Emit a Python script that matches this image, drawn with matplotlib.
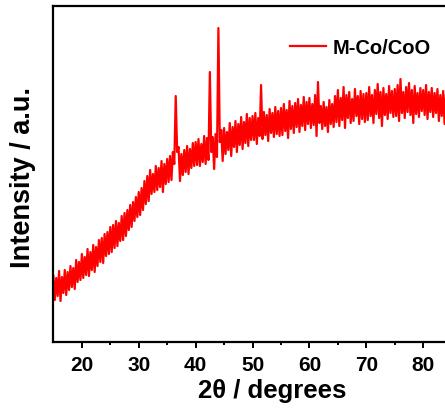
import numpy as np
import matplotlib
matplotlib.use('Agg')
import matplotlib.pyplot as plt

plt.rcParams['font.family'] = ['Liberation Sans', 'DejaVu Sans']
plt.rcParams['font.weight'] = 'bold'

# XRD trace: two-theta grid at 0.25 deg steps,
# upper edge of the noisy band at 15.0, 15.5, ... and lower edge at 15.25, 15.75, ...
two_theta_start = 15.0
two_theta_step = 0.25

upper = [66, 64, 71, 65, 72, 70, 76, 74, 82, 80,
         88, 85, 93, 90, 97, 95, 102, 104, 108, 110,
         115, 117, 121, 119, 126, 129, 132, 137, 140, 145,
         150, 154, 161, 166, 172, 168, 176, 174, 181, 178,
         183, 186, 190, 246, 195, 188, 192, 196, 193, 199,
         200, 203, 198, 206, 204, 270, 205, 208, 314, 212,
         214, 210, 219, 215, 221, 218, 225, 220, 228, 224,
         226, 229, 224, 257, 230, 227, 233, 229, 235, 231,
         234, 238, 232, 241, 236, 239, 243, 237, 245, 240,
         244, 238, 247, 260, 236, 240, 235, 242, 238, 246,
         252, 244, 255, 247, 250, 243, 253, 246, 251, 248,
         249, 255, 247, 252, 258, 250, 254, 248, 256, 251,
         253, 257, 263, 250, 255, 259, 252, 256, 249, 254,
         252, 257, 250, 254, 249, 253, 247, 251, 248, 250]

lower = [42, 46, 41, 49, 47, 52, 55, 53, 60, 62,
         64, 67, 66, 72, 70, 76, 80, 79, 86, 88,
         90, 94, 96, 101, 102, 106, 112, 115, 121, 125,
         127, 132, 138, 141, 148, 150, 152, 155, 150, 158,
         160, 162, 178, 190, 161, 167, 170, 168, 174, 176,
         177, 176, 180, 178, 182, 190, 173, 185, 200, 181,
         188, 192, 186, 195, 190, 197, 193, 199, 196, 202,
         202, 198, 206, 203, 207, 201, 209, 205, 208, 206,
         207, 211, 204, 213, 209, 215, 210, 216, 212, 218,
         214, 217, 206, 219, 213, 216, 210, 218, 215, 220,
         216, 222, 214, 224, 219, 221, 226, 218, 223, 220,
         222, 226, 219, 228, 224, 216, 227, 223, 229, 225,
         226, 221, 229, 224, 230, 227, 219, 228, 225, 231,
         227, 223, 230, 225, 229, 221, 226, 218, 224, 220]

intensity = np.empty(len(upper) + len(lower))
intensity[0::2] = upper
intensity[1::2] = lower
two_theta = two_theta_start + two_theta_step * np.arange(len(intensity))

fig = plt.figure(figsize=(4.45, 4.10), dpi=100)
ax = fig.add_axes([0.120, 0.1634, 0.895, 0.8195])

ax.plot(two_theta, intensity, color='#ff0000', lw=1.6, label='M-Co/CoO')

ax.set_xlim(15, 85)
ax.set_ylim(0, 336)
ax.set_xticks([20, 30, 40, 50, 60, 70, 80])
ax.set_xticks(np.arange(25, 85, 10), minor=True)
ax.set_yticks([])
ax.tick_params(axis='x', which='major', direction='out', length=4.5, width=1.4,
               labelsize=15, pad=5)
ax.tick_params(axis='x', which='minor', direction='out', length=2.5, width=1.4)
for sp in ax.spines.values():
    sp.set_linewidth(1.6)

ax.set_xlabel('2θ / degrees', fontsize=18.5, fontweight='bold')
ax.xaxis.set_label_coords(0.549, -0.108)
ax.set_ylabel('Intensity / a.u.', fontsize=19.5, fontweight='bold')
ax.yaxis.set_label_coords(-0.044, 0.494)

ax.legend(loc='center left', bbox_to_anchor=(290 / 445, 1 - 49 / 410),
          bbox_transform=fig.transFigure, frameon=False, borderpad=0,
          borderaxespad=0, handlelength=1.8, handletextpad=0.3,
          prop={'size': 14.5, 'weight': 'bold'})

fig.savefig('out.png', dpi=100)
